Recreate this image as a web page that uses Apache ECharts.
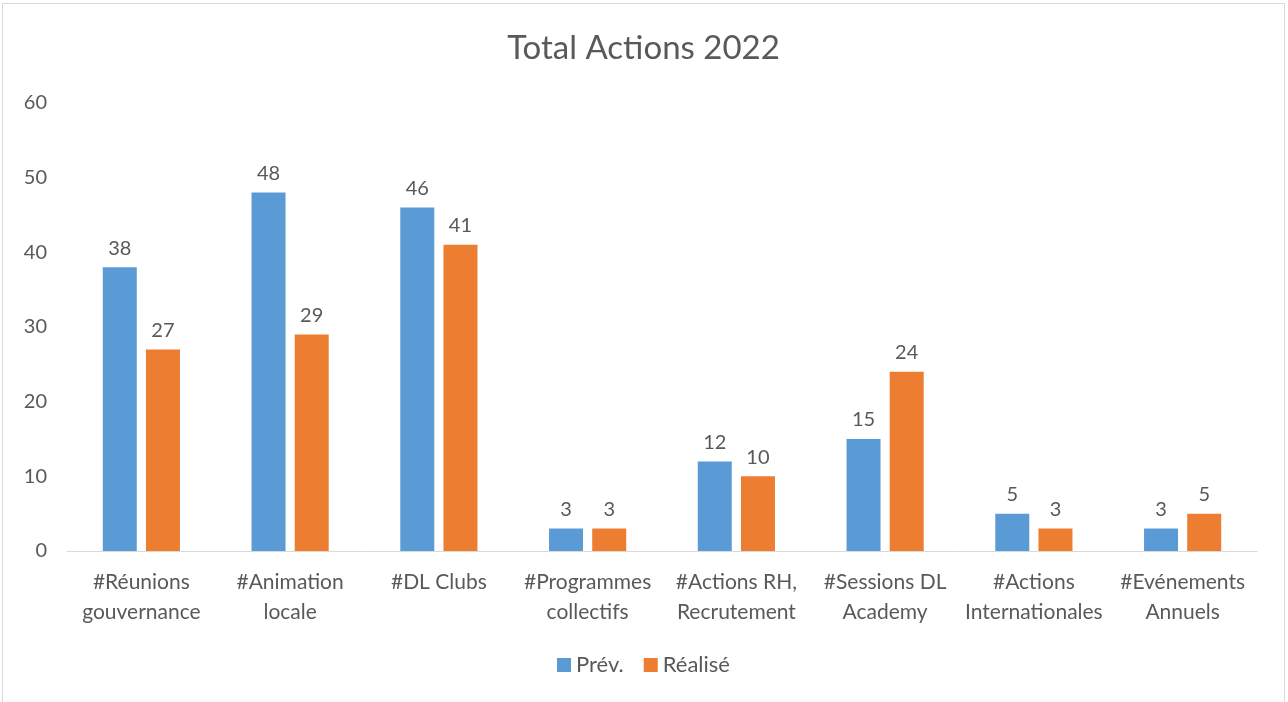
<!DOCTYPE html>
<html>
<head>
<meta charset="utf-8">
<script src="https://cdn.jsdelivr.net/npm/echarts@6/dist/echarts.min.js"></script>
<style>
  html, body { margin: 0; padding: 0; background: #fff; }
  #chart { position: absolute; left: 2px; top: 3px; width: 1283px; height: 699px; border: 1px solid #d9d9d9; border-bottom: none; box-sizing: border-box; }
</style>
</head>
<body>
<div id="chart"></div>
<script>
const categories = [
  '#Réunions\ngouvernance',
  '#Animation\nlocale',
  '#DL Clubs',
  '#Programmes\ncollectifs',
  '#Actions RH,\nRecrutement',
  '#Sessions DL\nAcademy',
  '#Actions\nInternationales',
  '#Evénements\nAnnuels'
]
const prev = [38, 48, 46, 3, 12, 15, 5, 3]
const realise = [27, 29, 41, 3, 10, 24, 3, 5]

const chart = echarts.init(document.getElementById('chart'))
const textColor = '#595959'
const font = 'Lato, "Noto Sans", sans-serif'

const labelStyle = {
  show: true,
  position: 'top',
  distance: 9,
  color: textColor,
  fontSize: 20,
  fontFamily: font
}

chart.setOption({
  color: ['#5B9BD5', '#ED7D31'],
  animation: false,
  title: {
    text: 'Total Actions 2022',
    left: 'center',
    top: 23,
    textStyle: {
      color: textColor,
      fontSize: 33,
      fontWeight: 'normal',
      fontFamily: font
    }
  },
  grid: {
    left: 64,
    right: 27,
    top: 99,
    bottom: 151
  },
  legend: {
    bottom: 21,
    left: 'center',
    icon: 'rect',
    itemWidth: 14,
    itemHeight: 14,
    itemGap: 20,
    textStyle: { color: textColor, fontSize: 22, fontFamily: font },
    data: ['Prév.', 'Réalisé']
  },
  xAxis: {
    type: 'category',
    data: categories,
    axisLine: { lineStyle: { color: '#d9d9d9', width: 1 } },
    axisTick: { show: false },
    axisLabel: {
      color: textColor,
      fontSize: 21,
      fontFamily: font,
      lineHeight: 30,
      margin: 16,
      interval: 0
    }
  },
  yAxis: {
    type: 'value',
    min: 0,
    max: 60,
    interval: 10,
    axisLine: { show: false },
    axisTick: { show: false },
    splitLine: { show: false },
    axisLabel: {
      color: textColor,
      fontSize: 20,
      fontFamily: font,
      margin: 20
    }
  },
  series: [
    {
      name: 'Prév.',
      type: 'bar',
      data: prev,
      barWidth: 34,
      barGap: '27%',
      label: labelStyle
    },
    {
      name: 'Réalisé',
      type: 'bar',
      data: realise,
      barWidth: 34,
      barGap: '27%',
      label: labelStyle
    }
  ]
})
</script>
</body>
</html>
